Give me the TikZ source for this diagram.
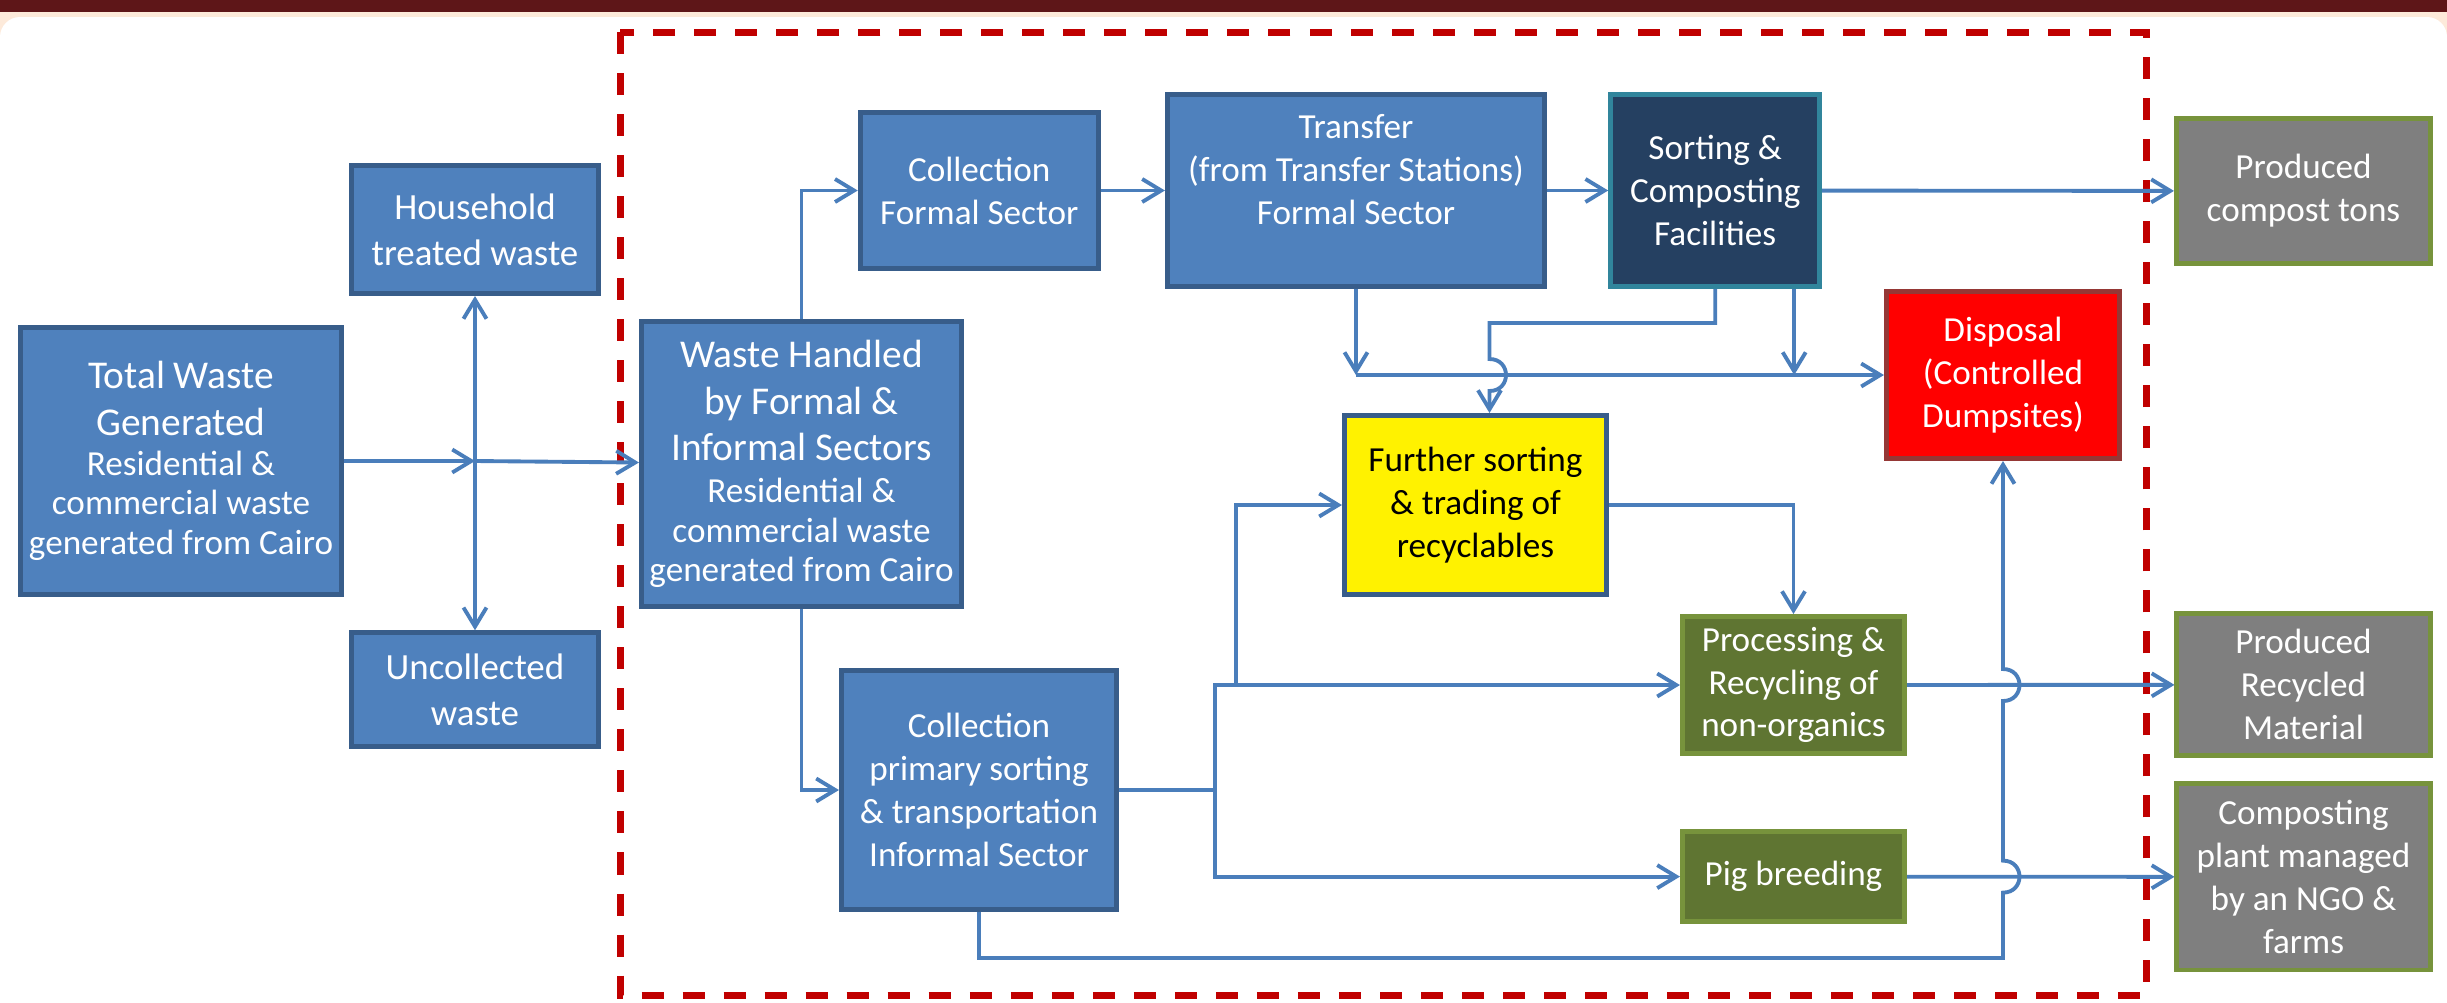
\documentclass[tikz,border=0pt]{standalone}
\usepackage{fontspec}
\setmainfont{Carlito}
\usepackage{tikz}
\usetikzlibrary{positioning, calc, arrows.meta}

\definecolor{boxblue}{HTML}{4F81BD}
\definecolor{blueedge}{HTML}{385D8A}
\definecolor{navyfill}{HTML}{254061}
\definecolor{tealedge}{HTML}{31859C}
\definecolor{greyfill}{HTML}{7F7F7F}
\definecolor{oliveedge}{HTML}{77933C}
\definecolor{olivefill}{HTML}{5F7532}
\definecolor{rededge}{HTML}{953735}
\definecolor{linkblue}{HTML}{4A7EBB}
\definecolor{dashred}{HTML}{C00000}
\definecolor{maroon}{HTML}{5E1618}
\definecolor{peach}{HTML}{FDEADA}

\newcommand{\bigline}[1]{{\fontsize{11.2}{13.7}\selectfont #1}}
\newcommand{\smalltext}{\fontsize{10}{11.3}\selectfont}
\newcommand{\sidetext}{\fontsize{10.5}{13}\selectfont}

\begin{document}
\begin{tikzpicture}[x=0.01cm,y=-0.01cm,on grid,
    >={Straight Barb[length=1.9mm,width=2.3mm]},
    box/.style={draw,line width=1.4pt,inner sep=0pt,align=center,text=white,
      font=\fontsize{10}{12.2}\selectfont},
    bluebox/.style={box,fill=boxblue,draw=blueedge},
    navybox/.style={box,fill=navyfill,draw=tealedge},
    greybox/.style={box,fill=greyfill,draw=oliveedge},
    greenbox/.style={box,fill=olivefill,draw=oliveedge},
    redbox/.style={box,fill=red,draw=rededge},
    yellowbox/.style={box,fill=yellow,draw=blueedge,text=black},
    link/.style={draw=linkblue,line width=1.1pt}]
  % slide frame
  \useasboundingbox (0,0) rectangle (2447,1002);
  \fill[peach] (0,10) rectangle (2447,60);
  \fill[white,rounded corners=0.2cm] (0,17) rectangle (2447,1040);
  \fill[maroon] (0,0) rectangle (2447,12);
  \draw[dashred,line width=0.07cm,dash pattern=on 0.22cm off 0.19cm] (620,32) rectangle (2146,995);

  % boxes
  \node[bluebox,font=\smalltext,minimum width=3.21cm,minimum height=2.67cm] (tw) at (181,461)
    {\bigline{Total Waste}\\[2pt]\bigline{Generated}\\Residential \&\\commercial waste\\generated from Cairo};
  \node[bluebox,font=\sidetext,minimum width=2.47cm,minimum height=1.28cm] (hh) at (475,229.5) {Household\\treated waste};
  \node[bluebox,font=\sidetext,minimum width=2.47cm,minimum height=1.14cm] (uc) [below=4.6cm of hh] {Uncollected\\waste};
  \node[bluebox,font=\smalltext,minimum width=3.2cm,minimum height=2.85cm] (wh) at (801.5,464)
    {\bigline{Waste Handled}\\[2pt]\bigline{by Formal \&}\\[2pt]\bigline{Informal Sectors}\\[0.5pt]Residential \&\\commercial waste\\generated from Cairo};
  \node[bluebox,minimum width=3.77cm,minimum height=1.92cm] (tr) at (1356,190.5)
    {Transfer\\(from Transfer Stations)\\Formal Sector\\\mbox{}};
  \node[bluebox,minimum width=2.38cm,minimum height=1.56cm] (cf) [left=3.765cm of tr] {Collection\\Formal Sector};
  \node[navybox,minimum width=2.09cm,minimum height=1.92cm] (sc) [right=3.59cm of tr] {Sorting \&\\Composting\\Facilities};
  \node[greybox,minimum width=2.54cm,minimum height=1.45cm] (pc) at (2303.5,191) {Produced\\compost tons};
  \node[redbox,minimum width=2.33cm,minimum height=1.67cm] (dp) at (2003,375) {Disposal\\(Controlled\\Dumpsites)};
  \node[yellowbox,minimum width=2.62cm,minimum height=1.79cm] (fs) at (1475.5,505) {Further sorting\\\& trading of\\recyclables};
  \node[bluebox,minimum width=2.75cm,minimum height=2.39cm] (ci) at (979,790)
    {Collection\\primary sorting\\\& transportation\\Informal Sector};
  \node[greenbox,minimum width=2.22cm,minimum height=1.37cm] (pr) at (1793.5,685) {Processing \&\\Recycling of\\non-organics};
  \node[greenbox,minimum width=2.22cm,minimum height=0.9cm] (pb) [below=1.915cm of pr] {Pig breeding};
  \node[greybox,minimum width=2.53cm,minimum height=1.42cm] (prm) [below=4.935cm of pc] {Produced\\Recycled\\Material};
  \node[greybox,minimum width=2.53cm,minimum height=1.86cm] (cp) [below=1.92cm of prm] {Composting\\plant managed\\by an NGO \&\\farms};

  % helper points
  \coordinate (jn) at (hh.south |- tw.east);
  \coordinate (dpin) at (tr.south |- dp.west);
  \coordinate (sc2) at ($(sc.south)+(79,0)$);
  \coordinate (fsin) at ($(fs.north)+(14,0)$);
  \coordinate (hopa) at (fsin |- dp.west);
  \coordinate (br) at ($(ci.east)+(96,0)$);
  \coordinate (low) at ($(ci.south)+(0,46)$);
  \coordinate (hopb) at (dp.south |- pb.east);
  \coordinate (hopc) at (dp.south |- pr.east);

  % connectors
  \draw[link,->] (tw) -- (jn);
  \draw[link,->] (jn) -- (wh);
  \draw[link,<->] (hh) -- (uc);
  \draw[link,->] (wh.north) |- (cf);
  \draw[link,->] (cf) -- (tr);
  \draw[link,->] (tr) -- (sc);
  \draw[link,->] (sc) -- (pc);
  \draw[link,->] (wh.south) |- (ci);
  \draw[link,->] (tr.south) -- (dpin);
  \draw[link,->] (dpin) -- (dp);
  \draw[link,->] (sc2) -- (sc2 |- dp.west);
  \draw[link,->] (sc.south) |- ($(fsin)+(0,-90)$) -- ($(hopa)+(0,-16)$)
    .. controls +(22,0) and +(22,0) .. ($(hopa)+(0,16)$) -- (fsin);
  \draw[link,->] (fs) -| (pr);
  \draw[link] (ci) -- (br);
  \draw[link,->] (br) |- (pr);
  \draw[link,->] (br) |- (pb);
  \draw[link,->] ($(br |- pr)+(21,0)$) |- (fs);
  \draw[link,->] (pr) -- (prm);
  \draw[link,->] (pb) -- (cp);
  \draw[link,->] (ci.south) -- (low) -- (low -| dp.south) -- ($(hopb)+(0,16)$)
    .. controls +(22,0) and +(22,0) .. ($(hopb)+(0,-16)$) -- ($(hopc)+(0,16)$)
    .. controls +(22,0) and +(22,0) .. ($(hopc)+(0,-16)$) -- (dp.south);
\end{tikzpicture}
\end{document}
